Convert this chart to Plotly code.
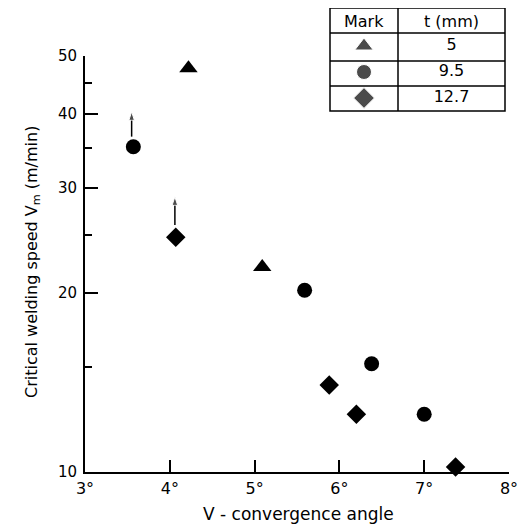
import math
import plotly.graph_objects as go

# ---- data ----
tri_x = [4.22, 5.09]
tri_y = [47.7, 22.1]
cir_x = [3.57, 5.59, 6.38, 7.0]
cir_y = [35.2, 20.2, 15.2, 12.5]
dia_x = [4.07, 5.88, 6.2, 7.37]
dia_y = [24.8, 14.0, 12.5, 10.2]

# arrows (lower-bound points): x, start value (top of marker), arrow tip value
arrow_x = [3.55, 4.06]
arrow_from = [36.6, 26.0]
arrow_to = [40.3, 29.0]

x_ticks = [3, 4, 5, 6, 7, 8]
x_ticktext = ["3°", "4°", "5°", "6°", "7°", "8°"]
y_ticks = [10, 20, 30, 40, 50]
y_minor = [15, 25, 35, 45]

legend_symbols = ["triangle-up", "circle", "diamond"]
legend_sizes = [16, 15, 16]
legend_t = ["5", "9.5", "12.7"]

# page has an 8px body margin; figure sized to fit the 531x527 window
OFF = 8
W, H = 531 - OFF, 527 - OFF
FONT = "DejaVu Sans, Liberation Sans, sans-serif"


def px(x):
    return (x - OFF) / W


def py(y):
    return 1 - (y - OFF) / H


fig = go.Figure()

fig.add_trace(go.Scatter(x=tri_x, y=tri_y, mode="markers",
                         marker=dict(symbol="triangle-up", size=16, color="black"),
                         cliponaxis=False, showlegend=False))
fig.add_trace(go.Scatter(x=cir_x, y=cir_y, mode="markers",
                         marker=dict(symbol="circle", size=15, color="black"),
                         cliponaxis=False, showlegend=False))
fig.add_trace(go.Scatter(x=dia_x, y=dia_y, mode="markers",
                         marker=dict(symbol="diamond", size=15, color="black"),
                         cliponaxis=False, showlegend=False))

# arrows drawn as short lines with an arrowhead marker at the tip
for ax_, a0, a1 in zip(arrow_x, arrow_from, arrow_to):
    fig.add_trace(go.Scatter(x=[ax_, ax_], y=[a0, a1], mode="lines+markers",
                             line=dict(color="black", width=1.5),
                             marker=dict(symbol=["circle", "arrow"], size=[0, 9],
                                         angleref="previous", color="black"),
                             cliponaxis=False, showlegend=False))

# legend table content on an auxiliary axis (col 0 = marks, col 1 = thickness)
tl, tr, tc = 330, 505, 398
row_lines = [8, 33, 61, 86, 111]
ratio = (tr - tc) / (tc - tl)
rows_y = [0.5 + i for i in range(len(legend_symbols))]
fig.add_trace(go.Scatter(x=[0.5] * len(legend_symbols), y=rows_y, mode="markers",
                         marker=dict(symbol=legend_symbols, size=legend_sizes, color="black"),
                         xaxis="x2", yaxis="y2", showlegend=False, cliponaxis=False))
fig.add_trace(go.Scatter(x=[1 + ratio / 2] * len(legend_t), y=rows_y, mode="text",
                         text=legend_t, textfont=dict(family=FONT, size=16, color="black"),
                         xaxis="x2", yaxis="y2", showlegend=False, cliponaxis=False))


def label(text, x, y, size, angle=0):
    return dict(text=text, x=px(x), y=py(y), xref="paper", yref="paper",
                xanchor="center", yanchor="middle", textangle=angle,
                showarrow=False, font=dict(family=FONT, size=size, color="black"))


annotations = [
    label("Critical welding speed V<sub>m</sub> (m/min)", 32, 262, 16, -90),
    label("V - convergence angle", 298, 514, 17),
    label("Mark", 364, 21, 16),
    label("t (mm)", 451, 21, 16),
]

shapes = []
shapes.append(dict(type="rect", x0=px(tl), x1=px(tr), y0=py(row_lines[-1]), y1=py(row_lines[0]),
                   xref="paper", yref="paper", line=dict(color="black", width=1.5)))
shapes.append(dict(type="line", x0=px(tc), x1=px(tc), y0=py(row_lines[-1]), y1=py(row_lines[0]),
                   xref="paper", yref="paper", line=dict(color="black", width=1.5)))
for r in row_lines[1:-1]:
    shapes.append(dict(type="line", x0=px(tl), x1=px(tr), y0=py(r), y1=py(r),
                       xref="paper", yref="paper", line=dict(color="black", width=1.5)))

fig.update_layout(
    width=W, height=H,
    margin=dict(l=0, r=0, t=0, b=0),
    paper_bgcolor="white", plot_bgcolor="white",
    font=dict(family=FONT, size=15, color="black"),
    xaxis=dict(domain=[px(85), px(509)], range=[3, 8], showline=True, linewidth=2,
               linecolor="black", ticks="inside", ticklen=12, tickwidth=1.5,
               tickcolor="black", tickvals=x_ticks, ticktext=x_ticktext,
               showgrid=False, zeroline=False, automargin=False,
               tickfont=dict(family=FONT, size=16), ticklabelstandoff=1),
    yaxis=dict(domain=[py(472), py(56)], type="log", range=[1, math.log10(50)],
               showline=True, linewidth=2, linecolor="black", ticks="inside",
               ticklen=13, tickwidth=1.5, tickcolor="black", tickvals=y_ticks,
               ticktext=[str(v) for v in y_ticks], showgrid=False, zeroline=False,
               automargin=False, tickfont=dict(family=FONT, size=15),
               ticklabelstandoff=3,
               minor=dict(tickvals=y_minor, ticks="inside", ticklen=7,
                          tickwidth=1.5, tickcolor="black", showgrid=False)),
    xaxis2=dict(domain=[px(tl), px(tr)], range=[0, 1 + ratio], visible=False, anchor="y2"),
    yaxis2=dict(domain=[py(row_lines[-1]), py(row_lines[1])], range=[3, 0],
                visible=False, anchor="x2"),
    annotations=annotations,
    shapes=shapes,
)

fig.write_html("out.html")
